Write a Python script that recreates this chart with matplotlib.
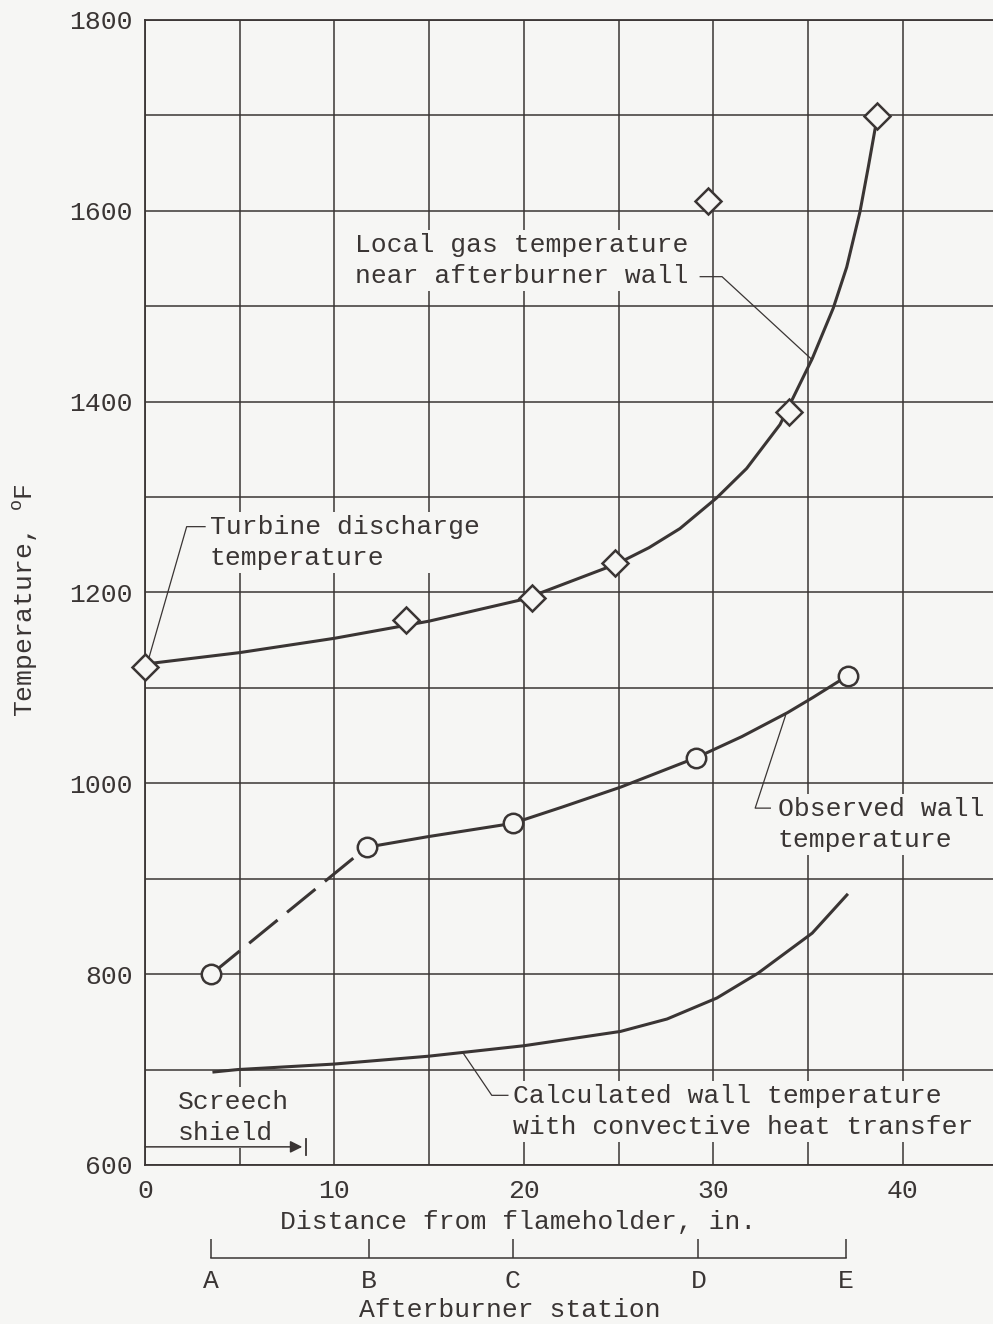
import numpy as np
import matplotlib
matplotlib.use("Agg")
import matplotlib.pyplot as plt

plt.rcParams['font.family'] = ['Liberation Mono', 'DejaVu Sans Mono']
plt.rcParams['mathtext.fontset'] = 'custom'
plt.rcParams['mathtext.rm'] = 'Liberation Mono'

BG = "#f6f6f4"
INK = "#3a3534"
FS = 19
LS = 1.37

# local gas temperature near the wall (test points)
gas_x = [0.0, 13.8, 20.4, 24.8, 29.7, 34.0, 38.65]
gas_y = [1122, 1171, 1194, 1231, 1610, 1389, 1699]
# faired curve through the gas points
gas_curve_x = [0.0, 5.0, 10.0, 15.0, 20.0, 24.9, 26.6, 28.23, 30.16, 31.75, 33.51,
               35.21, 36.32, 37.03, 37.73, 38.17, 38.52, 38.65]
gas_curve_y = [1125, 1137, 1152, 1170, 1193, 1230, 1247, 1267, 1299, 1330, 1376,
               1445, 1498, 1541, 1599, 1646, 1685, 1697]

# observed wall temperature
wall_x = [3.5, 11.7, 19.4, 29.1, 37.1]
wall_y = [800, 933, 958, 1027, 1113]
wall_curve_x = [11.7, 14.9, 19.4, 22.0, 25.1, 29.1, 31.5, 33.9, 35.25, 37.1]
wall_curve_y = [933, 944, 958, 975, 996, 1027, 1049, 1074, 1090, 1113]

# calculated wall temperature, convective heat transfer
calc_x = [3.64, 4.89, 9.93, 14.96, 20.0, 25.1, 27.55, 30.18, 32.35, 35.21, 37.04]
calc_y = [697.5, 700, 705.7, 714, 725, 740, 753, 775, 801, 843, 883]

stations = ["A", "B", "C", "D", "E"]
station_x = [3.5, 11.8, 19.4, 29.2, 37.0]

x_ticks = [0, 10, 20, 30, 40]
y_ticks = [600, 800, 1000, 1200, 1400, 1600, 1800]

fig = plt.figure(figsize=(9.93, 13.24), dpi=100, facecolor=BG)
ax = fig.add_axes([0.146, 0.1201, 0.854, 0.8648])
ax.set_facecolor(BG)
ax.set_xlim(0, 44.75)
ax.set_ylim(600, 1800)

ax.set_xticks(x_ticks)
ax.set_xticks(np.arange(5, 45, 10), minor=True)
ax.set_yticks(y_ticks)
ax.set_yticks(np.arange(700, 1800, 200), minor=True)
ax.tick_params(which="both", length=0, labelsize=FS, colors=INK)
ax.tick_params(axis="x", pad=10)
ax.tick_params(axis="y", pad=9)
ax.grid(True, which="both", color=INK, lw=1.1, zorder=1)
ax.set_axisbelow(True)
for side in ["left", "top", "bottom"]:
    ax.spines[side].set_color(INK)
    ax.spines[side].set_linewidth(1.3)
ax.spines["right"].set_visible(False)

# curves
ax.plot(gas_curve_x, gas_curve_y, color=INK, lw=2.2, zorder=3, solid_joinstyle="round")
ax.plot(wall_x[:2], wall_y[:2], color=INK, lw=2.2, dashes=(12, 4), zorder=3)
ax.plot(wall_curve_x, wall_curve_y, color=INK, lw=2.2, zorder=3, solid_joinstyle="round")
ax.plot(calc_x, calc_y, color=INK, lw=2.2, zorder=3, solid_joinstyle="round")

# test points
ax.plot(gas_x, gas_y, ls="none", marker="D", ms=13, mfc=BG, mec=INK, mew=1.8,
        zorder=4, clip_on=False)
ax.plot(wall_x, wall_y, ls="none", marker="o", ms=14, mfc=BG, mec=INK, mew=1.8,
        zorder=4, clip_on=False)

box = dict(facecolor=BG, edgecolor="none", pad=2)
lead = dict(color=INK, lw=0.9, zorder=3)

ax.text(11.08, 1548, "Local gas temperature\nnear afterburner wall", fontsize=FS,
        color=INK, va="center", ha="left", linespacing=LS, bbox=box, zorder=5)
ax.plot([29.3, 30.45, 35.2], [1531, 1531, 1444], **lead)

ax.text(3.43, 1252, "Turbine discharge\ntemperature", fontsize=FS,
        color=INK, va="center", ha="left", linespacing=LS, bbox=box, zorder=5)
ax.plot([3.17, 2.2, 0.1], [1269, 1269, 1124], **lead)

ax.text(33.4, 957, "Observed wall\ntemperature", fontsize=FS,
        color=INK, va="center", ha="left", linespacing=LS, bbox=box, zorder=5)
ax.plot([33.0, 32.2, 33.8], [974, 974, 1071], **lead)

ax.text(19.42, 656, "Calculated wall temperature\nwith convective heat transfer", fontsize=FS,
        color=INK, va="center", ha="left", linespacing=LS, bbox=box, zorder=5)
ax.plot([19.15, 18.3, 16.8], [673, 673, 717], **lead)

ax.text(1.74, 650, "Screech\nshield", fontsize=FS, color=INK,
        va="center", ha="left", linespacing=LS, bbox=box, zorder=5)
ax.annotate("", xy=(8.3, 619), xytext=(0, 619),
            arrowprops=dict(arrowstyle="-|>", color=INK, lw=1.1,
                            mutation_scale=18, shrinkA=0, shrinkB=0), zorder=5)
ax.plot([8.5, 8.5], [610, 627], color=INK, lw=1.3, zorder=5)

ax.text((518 - 145) / 848, -0.0498, "Distance from flameholder, in.", fontsize=FS,
        color=INK, ha="center", va="center", transform=ax.transAxes)

fig.text(25 / 993, 1 - 600 / 1324, "Temperature, $^{\\mathrm{o}}$F", rotation=90,
         fontsize=FS, color=INK, ha="center", va="center")

# afterburner station scale
ax2 = fig.add_axes([0.146, 1 - 1258 / 1324, 0.854, 0.01])
ax2.set_xlim(ax.get_xlim())
ax2.patch.set_visible(False)
for side in ["left", "right", "top"]:
    ax2.spines[side].set_visible(False)
ax2.spines["bottom"].set_bounds(station_x[0], station_x[-1])
ax2.spines["bottom"].set_color(INK)
ax2.spines["bottom"].set_linewidth(1.1)
ax2.set_yticks([])
ax2.set_xticks(station_x)
ax2.set_xticklabels(stations)
ax2.tick_params(axis="x", direction="in", length=14, width=1.1, colors=INK,
                labelsize=FS, pad=8)
ax2.text((510 - 145) / 848, -(1310 - 1258) / 13.24, "Afterburner station",
         fontsize=FS, color=INK, ha="center", va="center", transform=ax2.transAxes)

fig.savefig("out.png", dpi=100, facecolor=BG)
